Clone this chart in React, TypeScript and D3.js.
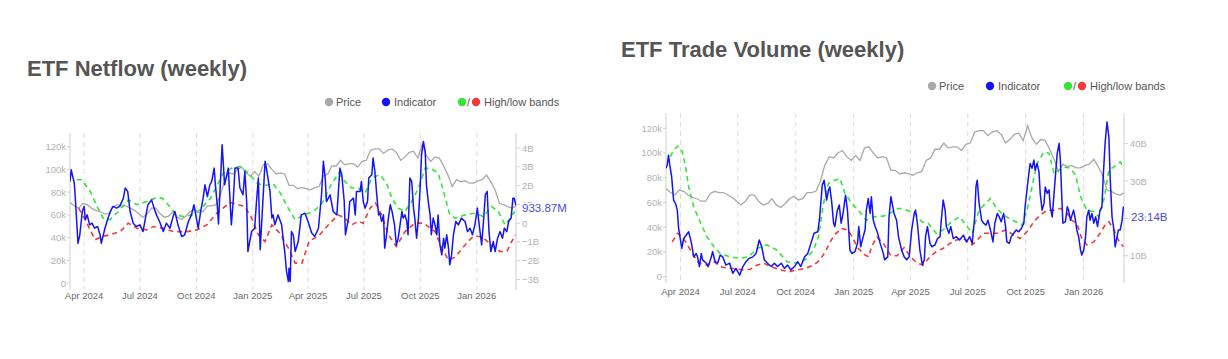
import React from "react";
import * as d3 from "d3";

type Pt = [number, number];

// x axis tick labels (quarter starts)
const xTickLabels = ["Apr 2024", "Jul 2024", "Oct 2024", "Jan 2025", "Apr 2025", "Jul 2025", "Oct 2025", "Jan 2026"];
const xDomainLabels = ["2024-03-09", "2026-03-06"];

// BTC price (k USD), weekly, first week starts 23 days before 2024-04-01
const priceStartDay = -23;
const priceWeeklyK = [
  71, 68, 66, 70, 69, 66, 64, 63, 61, 61,
  67, 69, 68, 68, 66, 64, 61, 58, 61, 66,
  66, 61, 58, 59, 63, 58, 56, 59, 63, 65,
  62, 63, 68, 68, 69, 77, 90, 97, 96, 100,
  102, 97, 94, 98, 94, 104, 105, 100, 96, 97,
  96, 86, 86, 83, 84, 83, 82, 84, 85, 94,
  96, 103, 103, 108, 104, 105, 105, 102, 107, 108,
  117, 118, 118, 114, 117, 118, 115, 108, 111, 115,
  116, 110, 122, 112, 107, 111, 110, 103, 95, 85,
  91, 89, 90, 88, 88, 90, 91, 95, 89, 82,
  70, 69, 67, 66, 68,
];

// ETF Netflow (weekly), billions USD; [days since 2024-04-01, value]
const netflowIndicator: Pt[] = [
  [-23, 2.22], [-21, 2.84], [-16, 2.13], [-14, 1.15], [-10, -1.07], [-7, -0.62], [-3, 0.62], [0, 0.89], [2, 0.18], [5, 0.44],
  [9, -0.09], [13, 0], [17, -0.27], [22, -0.18], [26, -0.62], [28, -1.07], [34, -0.27], [39, 0.27], [44, 0.71], [47, 0.89],
  [53, 0.8], [58, 0.89], [64, 1.33], [67, 1.87], [71, 1.69], [75, 0.62], [80, 0], [85, -0.18], [91, -0.09], [96, -0.45],
  [100, 0.27], [104, 0.98], [110, 1.24], [114, 0.8], [118, 0.44], [123, 0.09], [129, -0.45], [134, 0], [140, -0.27], [145, 0.35],
  [148, 0.62], [153, -0.09], [159, -0.71], [164, -0.62], [170, 0.09], [175, 0.44], [179, 0.98], [183, 0.27], [186, -0.27], [190, 0.62],
  [194, 1.33], [197, 2.04], [201, 1.42], [205, 2.04], [208, 2.22], [212, 2.93], [214, 2.04], [217, 0.98], [219, -0.04], [225, 4.18],
  [229, 2.04], [235, 2.93], [240, -0.09], [243, 1.15], [246, 2.93], [251, 2.93], [254, 1.87], [259, 1.51], [262, 2.75], [265, 1.15],
  [267, -1.51], [273, -0.45], [278, -0.27], [281, 1.15], [284, 2.4], [287, -1.42], [292, 1.51], [295, 3.29], [298, 2.75], [303, 1.69],
  [306, 0.27], [308, 0.44], [311, -0.09], [316, 0.44], [322, -0.09], [325, -0.98], [327, -1.51], [330, -2.58], [333, -3.11], [334, -2.4],
  [336, -3.11], [338, -0.45], [341, -0.62], [344, -1.51], [349, -0.98], [354, 0.44], [360, 0.53], [365, 0.09], [371, -0.53], [376, -0.71],
  [382, -0.27], [387, 1.51], [390, 3.29], [393, 2.4], [395, 1.15], [401, 1.51], [406, 0.62], [412, 0.44], [417, 2.93], [420, 2.58],
  [424, 1.15], [426, -0.62], [431, 0.27], [433, 1.15], [439, 1.33], [442, 0.44], [444, 1.69], [450, 1.69], [452, 2.22], [455, 1.15],
  [458, 0.8], [462, 1.15], [464, 2.4], [469, 2.58], [471, 3.47], [474, 2.75], [477, 1.51], [480, 0.44], [482, 0.53], [485, 0.09],
  [488, 0.44], [490, -1.33], [493, -0.62], [496, 0.27], [499, 0.98], [502, 0.62], [506, -0.09], [509, -1.16], [512, -0.8], [515, -0.09],
  [518, 0.62], [520, 0.27], [523, 0.44], [526, 0.09], [528, -0.62], [531, 2.4], [534, 2.22], [537, 0.8], [539, 0.27], [542, -0.8],
  [545, 0.27], [548, 2.04], [550, 3.64], [553, 4.35], [556, 3.82], [558, 2.04], [561, 1.15], [564, 0.44], [566, -0.62], [569, 0.27],
  [572, -0.09], [575, -0.62], [577, 0.44], [580, -1.16], [583, -1.69], [586, -0.8], [588, -1.33], [591, -0.62], [594, -1.33], [596, -2.22],
  [599, -1.69], [602, -0.62], [606, 0.09], [610, -0.09], [615, 0.27], [621, 0.09], [625, -0.45], [629, -0.27], [633, -0.62], [637, -0.09],
  [641, 0.8], [644, -0.09], [648, -1.16], [651, 0.09], [654, 1.51], [657, 1.69], [660, -0.45], [663, -1.51], [667, -0.98], [670, -1.51],
  [674, -0.8], [678, -0.45], [682, -0.8], [685, -0.27], [689, -0.45], [692, 0.09], [696, 0.27], [699, 1.33], [701, 1.33], [704, 0.93387],
];
const netflowHigh: Pt[] = [
  [-12, 2.31], [-4, 2.31], [10, 1.69], [21, 0.89], [31, 0.27], [42, 0.18], [56, 0.62], [72, 1.24], [86, 0.98], [102, 1.15],
  [116, 1.33], [127, 1.33], [137, 0.98], [151, 0.44], [162, 0.35], [176, 0.44], [189, 0.71], [206, 1.33], [216, 1.95], [227, 2.67],
  [241, 2.93], [254, 3.02], [268, 2.67], [282, 2.13], [294, 2.0], [308, 2.1], [320, 1.6], [331, 0.89], [344, 0.18], [358, 0.44],
  [374, 0.62], [388, 1.07], [401, 1.95], [415, 2.67], [425, 2.22], [436, 1.87], [447, 1.87], [458, 1.6], [469, 2.4], [482, 2.58],
  [493, 2.13], [502, 1.3], [512, 0.8], [523, 0.62], [534, 1.15], [545, 1.87], [556, 2.93], [566, 2.9], [577, 2.67], [586, 1.69],
  [596, 0.44], [605, 0.27], [621, 0.44], [637, 0.53], [651, 0.35], [664, 0.89], [675, 0.62], [686, -0.09], [693, 0.2], [702, 0.62],
];
const netflowLow: Pt[] = [
  [-9, 0.8], [-1, 0.35], [10, -0.36], [18, -0.89], [29, -0.71], [42, -0.62], [59, -0.45], [72, 0], [86, -0.27], [102, -0.36],
  [113, -0.18], [129, -0.27], [146, -0.45], [168, -0.45], [184, -0.36], [200, -0.09], [216, 0.53], [238, 1.1], [262, 0.89], [273, 0.27],
  [284, -0.62], [295, -0.98], [306, -0.09], [319, -0.53], [333, -1.33], [344, -2.13], [355, -2.13], [367, -0.95], [382, -0.7], [398, -0.1],
  [414, 0.44], [425, 0.27], [436, -0.09], [447, 0.09], [455, 0], [466, 0.8], [475, 1.07], [485, 0.44], [496, -0.62], [509, -1.24],
  [523, -0.45], [539, 0], [553, 0], [572, -0.45], [583, -1.33], [594, -1.96], [605, -1.8], [621, -1.16], [634, -0.71], [648, -0.71],
  [664, -1.16], [678, -1.51], [689, -1.51], [697, -0.98], [703, -0.62],
];

// ETF Trade Volume (weekly), billions USD; [days since 2024-04-01, value]
const volumeIndicator: Pt[] = [
  [-23, 33.4], [-21, 34.3], [-19, 36.9], [-17, 34.3], [-14, 31.1], [-11, 24.9], [-8, 24.0], [-5, 22.2], [-3, 17.3], [0, 14.2],
  [2, 12.0], [5, 14.6], [9, 15.5], [13, 16.4], [17, 13.7], [21, 9.7], [25, 10.6], [27, 9.7], [30, 7.1], [33, 10.6],
  [35, 8.9], [41, 8.0], [44, 7.1], [49, 9.7], [51, 11.1], [55, 8.4], [59, 8.0], [63, 10.2], [67, 9.7], [72, 7.5],
  [78, 8.0], [83, 5.3], [88, 6.6], [94, 4.8], [99, 7.1], [104, 8.4], [109, 9.3], [115, 9.7], [120, 10.6], [125, 14.2],
  [129, 12.4], [133, 8.9], [138, 8.0], [144, 7.1], [149, 8.0], [154, 7.1], [160, 8.0], [165, 6.6], [170, 7.5], [175, 6.2],
  [181, 7.1], [186, 8.4], [191, 7.1], [197, 9.7], [202, 10.6], [207, 13.3], [212, 16.0], [218, 16.4], [221, 20.4], [225, 28.9],
  [228, 30.2], [232, 24.9], [235, 27.6], [237, 28.4], [240, 24.4], [243, 18.7], [245, 17.8], [249, 22.2], [252, 23.6], [255, 18.7],
  [258, 21.3], [262, 26.2], [265, 22.2], [269, 11.5], [272, 10.6], [277, 11.1], [281, 13.3], [283, 17.8], [286, 12.4], [290, 15.1],
  [293, 16.9], [295, 22.2], [298, 25.3], [301, 21.3], [303, 25.8], [306, 19.5], [309, 17.8], [313, 16.0], [317, 13.3], [322, 10.6],
  [324, 8.9], [329, 9.7], [331, 20.4], [334, 25.8], [336, 24.0], [339, 21.3], [343, 19.5], [346, 15.1], [351, 11.5], [355, 9.7],
  [359, 8.9], [363, 9.7], [367, 16.9], [371, 21.3], [373, 22.2], [376, 18.7], [380, 11.5], [384, 7.5], [387, 8.9], [389, 15.1],
  [392, 17.8], [396, 13.3], [399, 12.4], [404, 12.9], [408, 14.6], [412, 15.1], [414, 19.5], [417, 24.9], [420, 22.2], [422, 17.8],
  [426, 16.0], [429, 17.8], [433, 14.6], [438, 15.1], [443, 14.2], [449, 15.5], [454, 13.7], [459, 15.1], [463, 13.3], [467, 20.4],
  [469, 28.4], [471, 30.2], [474, 24.0], [478, 19.5], [481, 18.7], [485, 18.2], [488, 19.5], [492, 16.9], [496, 13.7], [499, 18.7],
  [503, 21.3], [506, 20.4], [509, 19.1], [513, 21.3], [516, 17.8], [518, 13.7], [522, 13.3], [525, 15.1], [529, 16.0], [533, 16.9],
  [537, 16.4], [541, 17.3], [545, 18.7], [547, 23.1], [550, 27.6], [553, 32.0], [555, 34.7], [558, 33.4], [561, 35.6], [563, 32.9],
  [566, 34.7], [569, 32.5], [571, 26.7], [574, 22.2], [577, 24.0], [579, 28.4], [582, 26.7], [585, 27.6], [587, 23.1], [590, 20.4],
  [593, 26.7], [595, 31.1], [598, 37.4], [601, 40.1], [603, 35.6], [605, 26.7], [607, 18.7], [611, 19.1], [614, 23.1], [616, 22.2],
  [619, 19.5], [624, 22.2], [627, 19.5], [629, 16.9], [632, 15.1], [635, 11.5], [637, 10.2], [640, 11.5], [643, 15.1], [645, 20.4],
  [648, 22.2], [650, 19.5], [653, 21.3], [656, 18.7], [659, 20.4], [662, 17.8], [666, 22.2], [669, 23.1], [671, 31.1], [674, 40.1],
  [677, 45.8], [680, 41.8], [682, 31.1], [685, 20.4], [688, 16.9], [690, 12.4], [692, 14.2], [695, 16.9], [698, 16.9], [701, 19.5],
  [703, 23.14],
];
const volumeHigh: Pt[] = [
  [-16, 36.5], [-11, 38.3], [-4, 39.3], [3, 37.8], [8, 33.8], [13, 28.4], [21, 23.1], [32, 18.7], [42, 15.1], [53, 12.4],
  [63, 10.6], [79, 9.7], [95, 9.3], [108, 9.7], [122, 12.0], [137, 12.9], [153, 11.5], [169, 8.4], [185, 8.0], [198, 8.9],
  [211, 11.5], [219, 15.1], [227, 24.0], [235, 29.4], [245, 30.2], [253, 30.7], [261, 26.7], [272, 24.0], [282, 22.2], [295, 19.5],
  [306, 20.4], [322, 20.6], [332, 21.3], [346, 22.7], [359, 22.2], [372, 21.3], [383, 19.1], [393, 18.7], [406, 16.0], [417, 16.9],
  [430, 19.1], [443, 20.4], [451, 18.7], [463, 16.0], [474, 22.2], [482, 23.6], [492, 25.3], [500, 23.1], [510, 21.3], [521, 20.0],
  [532, 19.1], [542, 18.2], [550, 22.2], [558, 28.4], [566, 34.7], [577, 37.8], [585, 37.4], [593, 32.0], [601, 32.9], [609, 33.8],
  [619, 33.4], [627, 31.6], [635, 25.8], [645, 22.2], [656, 21.8], [664, 20.4], [672, 24.9], [680, 32.9], [688, 33.8], [698, 35.1],
  [703, 33.8],
];
const volumeLow: Pt[] = [
  [-13, 13.7], [-5, 16.0], [3, 15.1], [11, 12.9], [19, 10.6], [29, 8.0], [42, 7.5], [53, 8.4], [63, 7.1], [74, 6.6],
  [87, 6.6], [100, 6.2], [111, 6.4], [122, 7.5], [132, 8.0], [143, 7.1], [159, 6.2], [172, 5.7], [185, 6.2], [198, 6.6],
  [211, 7.5], [222, 8.9], [231, 11.5], [243, 15.3], [255, 17.3], [266, 16.9], [274, 14.6], [282, 12.0], [293, 10.2], [299, 9.7],
  [303, 12.4], [312, 15.0], [322, 13.3], [334, 10.0], [344, 10.0], [355, 12.2], [365, 9.7], [376, 8.0], [385, 7.5], [396, 9.7],
  [406, 11.1], [417, 12.0], [428, 13.3], [438, 14.2], [449, 14.6], [460, 13.3], [463, 12.9], [471, 14.2], [481, 16.0], [492, 16.0],
  [503, 16.0], [516, 16.9], [529, 15.5], [539, 14.6], [550, 16.4], [561, 19.1], [571, 20.9], [582, 22.2], [593, 22.2], [603, 22.7],
  [614, 21.3], [621, 19.5], [629, 18.7], [637, 14.6], [645, 12.9], [656, 13.7], [666, 16.0], [674, 18.2], [680, 19.1], [688, 16.9],
  [695, 14.2], [703, 12.4],
];

const priceTicksK = [0, 20, 40, 60, 80, 100, 120];
const netflowTicksB = [-3, -2, -1, 0, 1, 2, 3, 4];
const volumeTicksB = [10, 20, 30, 40];
const legendLabels = ["Price", "Indicator", "High/low bands"];

const C = {
  price: "#a9a9a9",
  ind: "#1414f5",
  high: "#33e633",
  low: "#f23a3a",
  grid: "#dcdcdc",
  axis: "#d0d0d0",
  tick: "#b3b3b3",
  xlab: "#6b6b6b",
  title: "#555555",
  legend: "#555555",
  last: "#4a4ae8",
};
const FONT = "'Liberation Sans', Arial, Helvetica, sans-serif";

const dayToDate = (d: number) => new Date(2024, 3, 1 + d);
const parseIso = d3.timeParse("%Y-%m-%d");
const parseTick = d3.timeParse("%b %Y");

interface PanelProps {
  id: string;
  title: string;
  titleX: number;
  titleY: number;
  legendY: number;
  legendDots: number[]; // price, indicator, green, red
  x0: number; x1: number; y0: number; y1: number;
  leftDomain: [number, number];
  rightDomain: [number, number];
  rightTicks: number[];
  rightFmt: (v: number) => string;
  indicator: Pt[];
  high: Pt[];
  low: Pt[];
  lastText: string;
  lastX: number;
  lastDy: number;
  xLabelY: number;
}

function Panel(p: PanelProps) {
  const x = d3.scaleTime()
    .domain([parseIso(xDomainLabels[0])!, parseIso(xDomainLabels[1])!])
    .range([p.x0, p.x1]);
  const yL = d3.scaleLinear().domain(p.leftDomain).range([p.y1, p.y0]);
  const yR = d3.scaleLinear().domain(p.rightDomain).range([p.y1, p.y0]);

  const pricePts: Pt[] = priceWeeklyK.map((v, i) => [priceStartDay + 7 * i, v]);
  const lineL = d3.line<Pt>().x((d) => x(dayToDate(d[0]))).y((d) => yL(d[1]));
  const lineR = d3.line<Pt>().x((d) => x(dayToDate(d[0]))).y((d) => yR(d[1]));

  const last = p.indicator[p.indicator.length - 1];
  const clip = `clip-${p.id}`;
  const [dp, di, dg, dr] = p.legendDots;

  return (
    <g fontFamily={FONT}>
      <text x={p.titleX} y={p.titleY} fontSize={22} fontWeight={700} fill={C.title}>{p.title}</text>
      {/* legend */}
      <g fontSize={11} fill={C.legend}>
        <circle cx={dp} cy={p.legendY} r={4.2} fill={C.price} />
        <text x={dp + 7} y={p.legendY + 4}>{legendLabels[0]}</text>
        <circle cx={di} cy={p.legendY} r={4.2} fill={C.ind} />
        <text x={di + 8} y={p.legendY + 4}>{legendLabels[1]}</text>
        <circle cx={dg} cy={p.legendY} r={4.2} fill={C.high} />
        <text x={(dg + dr) / 2 - 2} y={p.legendY + 4}>/</text>
        <circle cx={dr} cy={p.legendY} r={4.2} fill={C.low} />
        <text x={dr + 8} y={p.legendY + 4}>{legendLabels[2]}</text>
      </g>
      <defs>
        <clipPath id={clip}>
          <rect x={p.x0} y={p.y0} width={p.x1 - p.x0} height={p.y1 - p.y0} />
        </clipPath>
      </defs>
      {/* vertical dashed grid + x labels */}
      {xTickLabels.map((lab) => {
        const xx = x(parseTick(lab)!);
        return (
          <g key={lab}>
            <line x1={xx} x2={xx} y1={p.y0} y2={p.y1} stroke={C.grid} strokeWidth={1} strokeDasharray="5,4" />
            <text x={xx} y={p.xLabelY} fontSize={9.5} fill={C.xlab} textAnchor="middle">{lab}</text>
          </g>
        );
      })}
      {/* axes */}
      <line x1={p.x0} x2={p.x0} y1={p.y0} y2={p.y1} stroke={C.axis} />
      <line x1={p.x1} x2={p.x1} y1={p.y0} y2={p.y1} stroke={C.axis} />
      {priceTicksK.map((t) => (
        <g key={"l" + t}>
          <line x1={p.x0 - 3} x2={p.x0} y1={yL(t)} y2={yL(t)} stroke={C.axis} />
          <text x={p.x0 - 4} y={yL(t) + 3.5} fontSize={9.5} fill={C.tick} textAnchor="end">{t === 0 ? "0" : `${t}k`}</text>
        </g>
      ))}
      {p.rightTicks.map((t) => (
        <g key={"r" + t}>
          <line x1={p.x1} x2={p.x1 + 4} y1={yR(t)} y2={yR(t)} stroke={C.axis} />
          <text x={p.x1 + 6} y={yR(t) + 3.5} fontSize={9.5} fill={C.tick}>{p.rightFmt(t)}</text>
        </g>
      ))}
      <g clipPath={`url(#${clip})`} fill="none">
        <path d={lineL(pricePts) || ""} stroke={C.price} strokeWidth={1.3} />
        <path d={lineR(p.high) || ""} stroke={C.high} strokeWidth={1.6} strokeDasharray="5,4" />
        <path d={lineR(p.low) || ""} stroke={C.low} strokeWidth={1.6} strokeDasharray="5,4" />
        <path d={lineR(p.indicator) || ""} stroke={C.ind} strokeWidth={1.5} strokeLinejoin="round" />
      </g>
      <text x={p.lastX} y={yR(last[1]) + p.lastDy} fontSize={11.5} fill={C.last}
        stroke="#ffffff" strokeWidth={3} paintOrder="stroke">{p.lastText}</text>
    </g>
  );
}

const fmtB = (v: number) => (v < 0 ? `\u2212${Math.abs(v)}B` : v === 0 ? "0" : `${v}B`);

export default function App() {
  return (
    <svg width={1228} height={359} style={{ position: "absolute", left: 0, top: 0, background: "#fff" }}>
      <rect width={1228} height={359} fill="#fff" />
      <Panel
        id="netflow"
        title="ETF Netflow (weekly)"
        titleX={27}
        titleY={76}
        legendY={102}
        legendDots={[329, 386, 462, 476]}
        x0={70} x1={516} y0={133} y1={290}
        leftDomain={[-6, 132]}
        rightDomain={[-3.56, 4.8]}
        rightTicks={netflowTicksB}
        rightFmt={fmtB}
        indicator={netflowIndicator}
        high={netflowHigh}
        low={netflowLow}
        lastText="933.87M"
        lastX={522}
        lastDy={6.5}
        xLabelY={299}
      />
      <Panel
        id="volume"
        title="ETF Trade Volume (weekly)"
        titleX={621}
        titleY={57}
        legendY={86}
        legendDots={[932, 990, 1068, 1082]}
        x0={666} x1={1124} y0={113} y1={283}
        leftDomain={[-5.1, 132.3]}
        rightDomain={[2.7, 48.2]}
        rightTicks={volumeTicksB}
        rightFmt={fmtB}
        indicator={volumeIndicator}
        high={volumeHigh}
        low={volumeLow}
        lastText="23.14B"
        lastX={1131}
        lastDy={14.5}
        xLabelY={295}
      />
    </svg>
  );
}
